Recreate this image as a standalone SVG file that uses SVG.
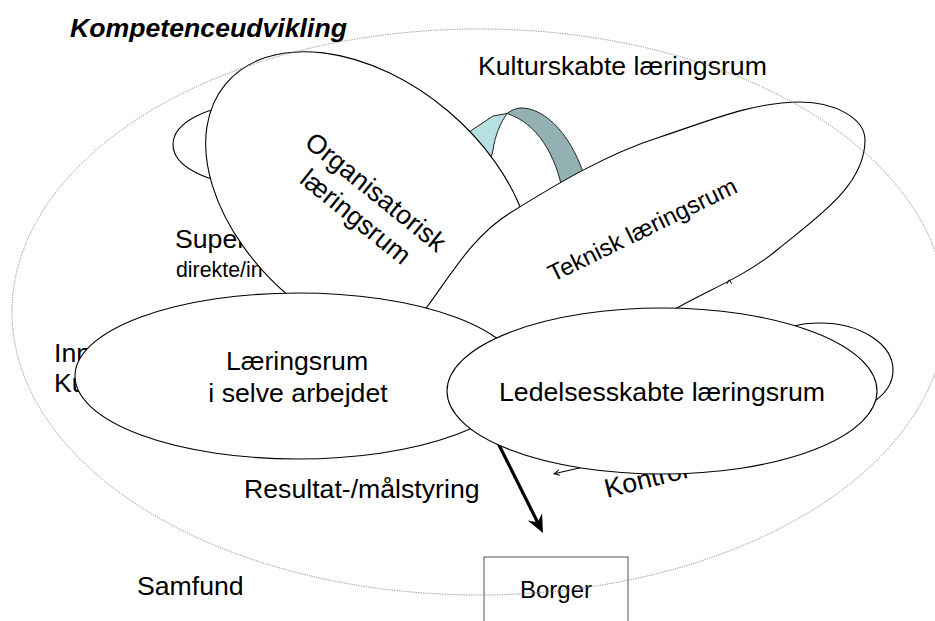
<svg xmlns="http://www.w3.org/2000/svg" width="935" height="621" viewBox="0 0 935 621">
  <style>
    .shape { fill: #ffffff; stroke: #000000; stroke-width: 1.1; }
    .t { font-family: "Liberation Sans", Arial, sans-serif; font-size: 26.67px; fill: #000000; }
    .ts { font-family: "Liberation Sans", Arial, sans-serif; font-size: 21.33px; fill: #000000; }
    .tm { font-family: "Liberation Sans", Arial, sans-serif; font-size: 24px; fill: #000000; }
    .conn { fill: none; stroke: #000000; }
    .outer { fill: none; stroke: #8a8a8a; stroke-width: 1; stroke-dasharray: 1.2 1.2; }
  </style>
  <defs>
    <marker id="ah-big" viewBox="0 0 20 20" refX="8" refY="10" markerWidth="20" markerHeight="20" markerUnits="userSpaceOnUse" orient="auto">
      <path d="M20,10 L2,2 L8,10 L2,18 Z" fill="#000000"/>
    </marker>
    <marker id="ah-small" viewBox="0 0 10 10" refX="9" refY="5" markerWidth="7" markerHeight="7" markerUnits="userSpaceOnUse" orient="auto">
      <path d="M1,1 L9,5 L1,9" fill="none" stroke="#000000" stroke-width="1.4"/>
    </marker>
  </defs>

  <rect x="0" y="0" width="935" height="621" fill="#ffffff"/>

  <!-- labels partly hidden behind shapes -->
  <g id="labels-back">
    <text class="t" x="175" y="248">Super</text>
    <text class="ts" x="176" y="277">direkte/in</text>
    <text class="t" x="54" y="362">Inn</text>
    <text class="t" x="54" y="392">Ku</text>
  </g>

  <g id="n-org-back">
    <ellipse class="shape" cx="252" cy="144.5" rx="79" ry="40"/>
  </g>

  <g id="n-kultur">
    <path d="M466,134 L493,116 L507,113.5 C501,122 495,135 493,150 L490,162 Z" fill="#b7e0e3" stroke="#222222" stroke-width="1"/>
    <path d="M507,113.5 C511,110.5 515,108.6 520,108 C546,107 574,138 586,182 L563,193 C556,155 537,123 507,113.5 Z" fill="#93b0b2" stroke="#222222" stroke-width="1"/>
    <text class="t" x="478" y="75">Kulturskabte læringsrum</text>
  </g>

  <g id="n-org">
    <ellipse class="shape" cx="0" cy="0" rx="187" ry="122" transform="translate(369,204) rotate(40)"/>
    <g transform="translate(366,204) rotate(39)">
      <text class="t" x="0" y="-6.5" text-anchor="middle">Organisatorisk</text>
      <text class="t" x="0" y="25.5" text-anchor="middle">læringsrum</text>
    </g>
  </g>

  <g id="n-teknisk">
    <path class="shape" d="M427,307 C452,273 474,235 510,213 C558,183 607,154 660,137 C706,122 752,102 800,102 C836,102 865,119 865,140 C865,187 813,220 777,250 C747,275 711,289 677,308 C640,328 590,345 540,348 C480,352 430,345 418,325 C415,318 420,312 427,307 Z"/>
    <text class="tm" transform="translate(646,237) rotate(-26)" text-anchor="middle">Teknisk læringsrum</text>
  </g>

  <g id="n-arbejdet">
    <ellipse class="shape" cx="298" cy="376" rx="223" ry="83"/>
    <text class="t" x="297" y="370" text-anchor="middle">Læringsrum</text>
    <text class="t" x="298" y="402" text-anchor="middle">i selve arbejdet</text>
  </g>

  <g id="connectors">
    <line class="conn" x1="490" y1="427" x2="537.6" y2="522.3" stroke-width="3.2" marker-end="url(#ah-big)"/>
    <line class="conn" x1="610" y1="461" x2="554" y2="473.8" stroke-width="1.1" marker-end="url(#ah-small)"/>
    <path class="conn" d="M726.8,284 L729.3,279.8 L731.6,283.6" stroke-width="1"/>
  </g>

  <g id="label-kontrol">
    <text class="t" transform="translate(607,498) rotate(-14)">Kontrol</text>
  </g>

  <g id="n-ledelse">
    <ellipse class="shape" cx="820" cy="370" rx="73" ry="47"/>
    <ellipse class="shape" cx="662" cy="391" rx="215" ry="83"/>
    <text class="t" x="662" y="401" text-anchor="middle">Ledelsesskabte læringsrum</text>
  </g>

  <g id="n-borger">
    <rect x="484" y="557" width="144" height="70" fill="none" stroke="#555555" stroke-width="1"/>
    <text class="tm" x="556" y="598" text-anchor="middle">Borger</text>
  </g>

  <g id="labels">
    <text class="t" x="70" y="37" font-weight="bold" font-style="italic">Kompetenceudvikling</text>
    <text class="t" x="244" y="498">Resultat-/målstyring</text>
    <text class="t" x="137" y="595">Samfund</text>
  </g>

  <g id="n-samfund">
    <ellipse class="outer" cx="479" cy="312" rx="467" ry="283"/>
  </g>
</svg>
